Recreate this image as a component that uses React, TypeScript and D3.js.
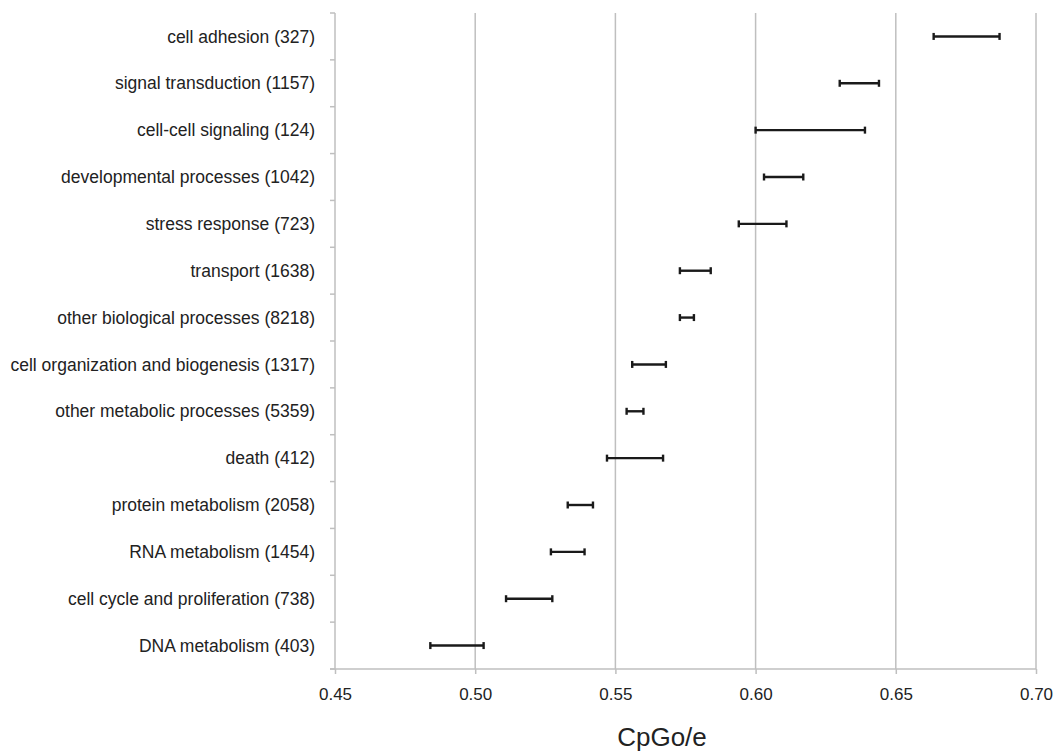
import React, { useEffect, useRef } from 'react';
import * as d3 from 'd3';

const categories = [
  'cell adhesion (327)',
  'signal transduction (1157)',
  'cell-cell signaling (124)',
  'developmental processes (1042)',
  'stress response (723)',
  'transport (1638)',
  'other biological processes (8218)',
  'cell organization and biogenesis (1317)',
  'other metabolic processes (5359)',
  'death (412)',
  'protein metabolism (2058)',
  'RNA metabolism (1454)',
  'cell cycle and proliferation (738)',
  'DNA metabolism (403)',
];
const lowValues = [0.6635, 0.630, 0.600, 0.603, 0.594, 0.573, 0.573, 0.556, 0.554, 0.547, 0.533, 0.527, 0.511, 0.484];
const highValues = [0.687, 0.644, 0.639, 0.617, 0.611, 0.584, 0.578, 0.568, 0.560, 0.567, 0.542, 0.539, 0.5275, 0.503];
const xTicks = [0.45, 0.5, 0.55, 0.6, 0.65, 0.7];
const xTitle = 'CpGo/e';

const W = 1057;
const H = 751;
const FONT = '"Liberation Sans", Arial, sans-serif';

export default function App() {
  const ref = useRef<SVGSVGElement | null>(null);

  useEffect(() => {
    if (!ref.current) return;
    const svg = d3.select(ref.current);
    svg.selectAll('*').remove();

    const left = 335, right = 1036, top = 13, bottom = 669;

    const x = d3.scaleLinear().domain([0.45, 0.7]).range([left, right]);
    const y = d3.scaleBand<string>().domain(categories).range([top, bottom]).padding(0);

    // vertical gridlines
    svg.append('g')
      .selectAll('line')
      .data(xTicks.slice(1))
      .join('line')
      .attr('x1', d => x(d)).attr('x2', d => x(d))
      .attr('y1', top).attr('y2', bottom)
      .attr('stroke', '#bfbfbf')
      .attr('stroke-width', 1.5);

    // x axis
    const gx = svg.append('g')
      .attr('transform', `translate(0,${bottom})`)
      .call(d3.axisBottom(x).tickValues(xTicks).tickFormat(d3.format('.2f')).tickSizeInner(5).tickSizeOuter(0).tickPadding(14));
    gx.select('.domain').remove();
    gx.append('line')
      .attr('x1', left - 5).attr('x2', right)
      .attr('stroke', '#bfbfbf').attr('stroke-width', 1.5);
    gx.selectAll('.tick line').attr('stroke', '#bfbfbf').attr('stroke-width', 1.5);
    gx.selectAll('.tick text')
      .attr('fill', '#222')
      .style('font-family', FONT)
      .style('font-size', '17px');

    // y axis
    const gy = svg.append('g').attr('transform', `translate(${left},0)`);
    gy.append('line')
      .attr('y1', top).attr('y2', bottom)
      .attr('stroke', '#bfbfbf').attr('stroke-width', 1.5);
    const boundaries = d3.range(categories.length + 1).map(i => top + i * y.step());
    gy.selectAll('line.tk')
      .data(boundaries)
      .join('line')
      .attr('class', 'tk')
      .attr('x1', -5).attr('x2', 0)
      .attr('y1', d => d).attr('y2', d => d)
      .attr('stroke', '#bfbfbf').attr('stroke-width', 1.5);
    gy.selectAll('text')
      .data(categories)
      .join('text')
      .attr('x', -20)
      .attr('y', d => (y(d) ?? 0) + y.bandwidth() / 2)
      .attr('dy', '0.35em')
      .attr('text-anchor', 'end')
      .attr('fill', '#222')
      .style('font-family', FONT)
      .style('font-size', '17.5px')
      .text(d => d);

    // error bars
    const bars = svg.append('g')
      .selectAll('g')
      .data(categories.map((c, i) => ({ c, lo: lowValues[i], hi: highValues[i] })))
      .join('g')
      .attr('stroke', '#1a1a1a')
      .attr('stroke-width', 2.4);
    const cy = (c: string) => (y(c) ?? 0) + y.bandwidth() / 2;
    bars.append('line')
      .attr('x1', d => x(d.lo)).attr('x2', d => x(d.hi))
      .attr('y1', d => cy(d.c)).attr('y2', d => cy(d.c));
    bars.append('line')
      .attr('x1', d => x(d.lo)).attr('x2', d => x(d.lo))
      .attr('y1', d => cy(d.c) - 3.5).attr('y2', d => cy(d.c) + 3.5);
    bars.append('line')
      .attr('x1', d => x(d.hi)).attr('x2', d => x(d.hi))
      .attr('y1', d => cy(d.c) - 3.5).attr('y2', d => cy(d.c) + 3.5);

    // axis title, sits a bit left of the plot centre in the original
    svg.append('text')
      .attr('x', 662)
      .attr('y', 746)
      .attr('text-anchor', 'middle')
      .attr('fill', '#222')
      .style('font-family', FONT)
      .style('font-size', '26px')
      .text(xTitle);
  }, []);

  return (
    <svg
      ref={ref}
      width={W}
      height={H}
      style={{ position: 'absolute', left: 0, top: 0, background: '#fff' }}
    />
  );
}
